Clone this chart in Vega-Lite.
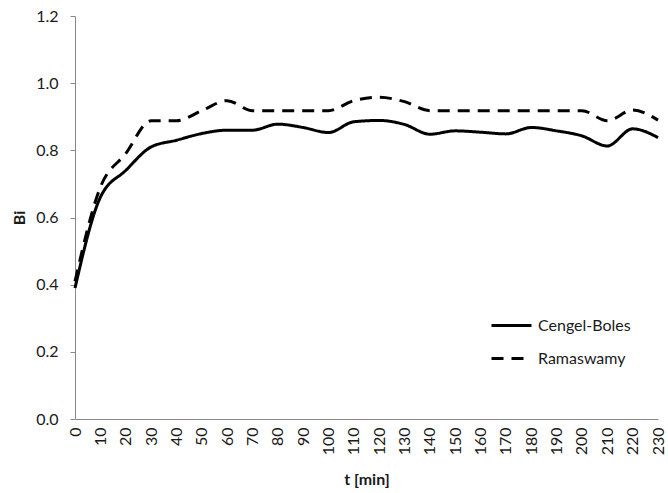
{
  "$schema": "https://vega.github.io/schema/vega-lite/v6.json",
  "width": 583,
  "height": 403,
  "autosize": "none",
  "padding": {"left": 75, "top": 16, "right": 10, "bottom": 74},
  "background": "white",
  "config": {
    "view": {"stroke": null},
    "font": "Lato",
    "axis": {"grid": false, "domainColor": "#888888", "tickColor": "#888888", "labelColor": "#1a1a1a", "labelFontSize": 16, "labelFont": "Lato", "titleFont": "Lato", "titleFontSize": 16, "titleFontWeight": "bold", "titleColor": "#1a1a1a"}
  },
  "data": {
    "values": [
      {"t": 0, "Bi": 0.39, "s": "Cengel-Boles"},
      {"t": 10, "Bi": 0.66, "s": "Cengel-Boles"},
      {"t": 20, "Bi": 0.74, "s": "Cengel-Boles"},
      {"t": 30, "Bi": 0.81, "s": "Cengel-Boles"},
      {"t": 40, "Bi": 0.83, "s": "Cengel-Boles"},
      {"t": 50, "Bi": 0.85, "s": "Cengel-Boles"},
      {"t": 60, "Bi": 0.86, "s": "Cengel-Boles"},
      {"t": 70, "Bi": 0.86, "s": "Cengel-Boles"},
      {"t": 80, "Bi": 0.878, "s": "Cengel-Boles"},
      {"t": 90, "Bi": 0.868, "s": "Cengel-Boles"},
      {"t": 100, "Bi": 0.853, "s": "Cengel-Boles"},
      {"t": 110, "Bi": 0.885, "s": "Cengel-Boles"},
      {"t": 120, "Bi": 0.889, "s": "Cengel-Boles"},
      {"t": 130, "Bi": 0.877, "s": "Cengel-Boles"},
      {"t": 140, "Bi": 0.848, "s": "Cengel-Boles"},
      {"t": 150, "Bi": 0.858, "s": "Cengel-Boles"},
      {"t": 160, "Bi": 0.854, "s": "Cengel-Boles"},
      {"t": 170, "Bi": 0.849, "s": "Cengel-Boles"},
      {"t": 180, "Bi": 0.868, "s": "Cengel-Boles"},
      {"t": 190, "Bi": 0.858, "s": "Cengel-Boles"},
      {"t": 200, "Bi": 0.843, "s": "Cengel-Boles"},
      {"t": 210, "Bi": 0.813, "s": "Cengel-Boles"},
      {"t": 220, "Bi": 0.864, "s": "Cengel-Boles"},
      {"t": 230, "Bi": 0.838, "s": "Cengel-Boles"},
      {"t": 0, "Bi": 0.41, "s": "Ramaswamy"},
      {"t": 10, "Bi": 0.69, "s": "Ramaswamy"},
      {"t": 20, "Bi": 0.79, "s": "Ramaswamy"},
      {"t": 30, "Bi": 0.888, "s": "Ramaswamy"},
      {"t": 40, "Bi": 0.888, "s": "Ramaswamy"},
      {"t": 50, "Bi": 0.918, "s": "Ramaswamy"},
      {"t": 60, "Bi": 0.948, "s": "Ramaswamy"},
      {"t": 70, "Bi": 0.918, "s": "Ramaswamy"},
      {"t": 80, "Bi": 0.918, "s": "Ramaswamy"},
      {"t": 90, "Bi": 0.918, "s": "Ramaswamy"},
      {"t": 100, "Bi": 0.918, "s": "Ramaswamy"},
      {"t": 110, "Bi": 0.948, "s": "Ramaswamy"},
      {"t": 120, "Bi": 0.958, "s": "Ramaswamy"},
      {"t": 130, "Bi": 0.945, "s": "Ramaswamy"},
      {"t": 140, "Bi": 0.918, "s": "Ramaswamy"},
      {"t": 150, "Bi": 0.918, "s": "Ramaswamy"},
      {"t": 160, "Bi": 0.918, "s": "Ramaswamy"},
      {"t": 170, "Bi": 0.918, "s": "Ramaswamy"},
      {"t": 180, "Bi": 0.918, "s": "Ramaswamy"},
      {"t": 190, "Bi": 0.918, "s": "Ramaswamy"},
      {"t": 200, "Bi": 0.918, "s": "Ramaswamy"},
      {"t": 210, "Bi": 0.888, "s": "Ramaswamy"},
      {"t": 220, "Bi": 0.92, "s": "Ramaswamy"},
      {"t": 230, "Bi": 0.89, "s": "Ramaswamy"}
    ]
  },
  "mark": {"type": "line", "interpolate": "monotone", "strokeWidth": 3},
  "encoding": {
    "x": {
      "field": "t", "type": "quantitative", "title": "t [min]",
      "scale": {"domain": [0, 230], "nice": false},
      "axis": {"values": [0,10,20,30,40,50,60,70,80,90,100,110,120,130,140,150,160,170,180,190,200,210,220,230], "labelAngle": -90, "labelAlign": "right", "labelBaseline": "middle", "ticks": false, "labelPadding": 8, "titlePadding": 17, "labelFlush": false}
    },
    "y": {
      "field": "Bi", "type": "quantitative", "title": "Bi",
      "scale": {"domain": [0, 1.2], "nice": false},
      "axis": {"values": [0, 0.2, 0.4, 0.6, 0.8, 1.0, 1.2], "format": ".1f", "tickSize": 5, "labelPadding": 12, "titlePadding": 8}
    },
    "color": {
      "field": "s", "type": "nominal",
      "scale": {"range": ["black", "black"]},
      "legend": {"title": null, "orient": "none", "legendX": 415, "legendY": 288, "symbolType": "stroke", "symbolSize": 1600, "symbolStrokeWidth": 3, "labelFont": "Lato", "labelFontSize": 16, "labelColor": "#1a1a1a", "labelOffset": 5, "rowPadding": 3}
    },
    "strokeDash": {
      "field": "s", "type": "nominal",
      "scale": {"range": [[1, 0], [12, 8]]},
      "legend": {"title": null, "orient": "none", "legendX": 415, "legendY": 288, "symbolType": "stroke", "symbolSize": 1600, "symbolStrokeWidth": 3, "labelFont": "Lato", "labelFontSize": 16, "labelColor": "#1a1a1a", "labelOffset": 5, "rowPadding": 3}
    }
  }
}
